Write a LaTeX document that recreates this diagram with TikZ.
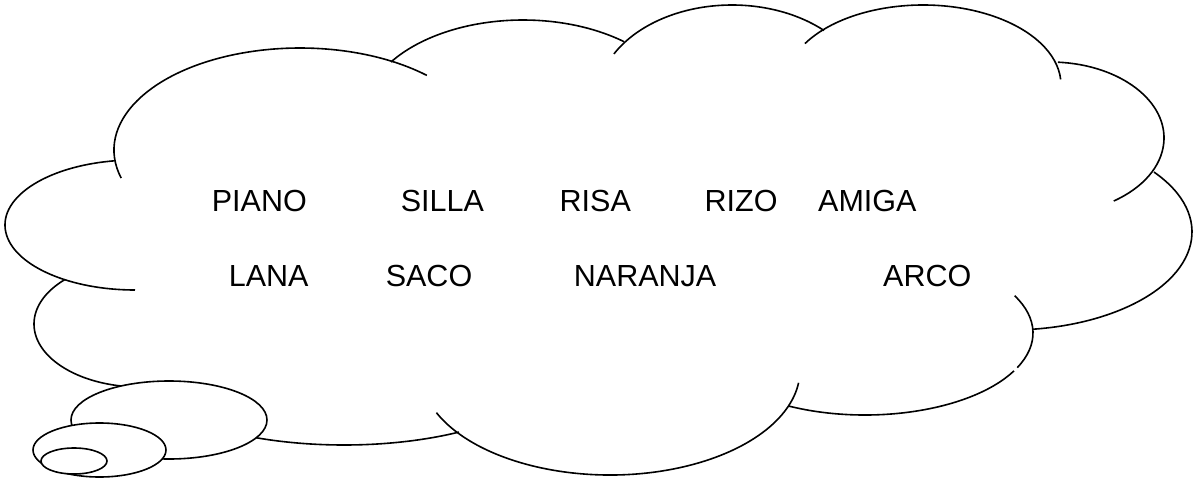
\documentclass[tikz,border=0pt]{standalone}
\usepackage{fontspec}
\setmainfont{Liberation Sans}
\newcommand\cloudlobe[6]{%
  \draw[lobeline] (#1pt,-#2pt) ++(#5:#3pt and #4pt)
    arc[start angle=#5,end angle=#6,x radius=#3pt,y radius=#4pt];}
\newcommand\bubble[4]{%
  \draw[lobeline,fill=white] (#1pt,-#2pt) ellipse[x radius=#3pt,y radius=#4pt];}
\begin{document}
\begin{tikzpicture}[x=1pt,y=1pt,
  lobeline/.style={line width=1.6pt,black},
  word/.style={inner sep=0pt,anchor=base west,font=\fontsize{30.5}{36}\selectfont}]
\useasboundingbox (0,0) rectangle (1195,-479);
% cloud outline, lobe by lobe
\cloudlobe{135}{225}{130}{65}{99}{270}
\cloudlobe{140}{324}{106}{63}{135}{260}
\cloudlobe{300}{150}{186}{102}{196}{47}
\cloudlobe{523}{116.5}{160}{96.5}{145.6}{50.9}
\cloudlobe{732}{100}{135}{95}{151}{47}
\cloudlobe{923}{85}{138}{80}{148.8}{4}
\cloudlobe{1050}{138}{114}{76}{86}{-56}
\cloudlobe{1010}{232}{182}{98}{37.7}{-82.7}
\cloudlobe{865}{333}{168}{82}{27}{-25}
\cloudlobe{865}{333}{168}{82}{-27.5}{-117}
\cloudlobe{610}{370}{190}{105}{204}{353}
\cloudlobe{344}{360}{217}{85}{235}{302}
% thought bubbles
\bubble{169}{420}{98}{39}
\bubble{99.5}{450}{66.5}{27}
\bubble{74}{461}{33}{13}
% words
\node[word] (piano)   at (211.7,-211.5) {PIANO};
\node[word] (silla)   at (400.6,-211.5) {SILLA};
\node[word] (risa)    at (559.5,-211.5) {RISA};
\node[word] (rizo)    at (704.5,-211.5) {RIZO};
\node[word] (amiga)   at (818,-211.5) {AMIGA};
\node[word] (lana)    at (228.7,-286.5) {LANA};
\node[word] (saco)    at (385.6,-286.5) {SACO};
\node[word] (naranja) at (573.7,-286.5) {NARANJA};
\node[word] (arco)    at (883,-286.5) {ARCO};
\end{tikzpicture}
\end{document}
